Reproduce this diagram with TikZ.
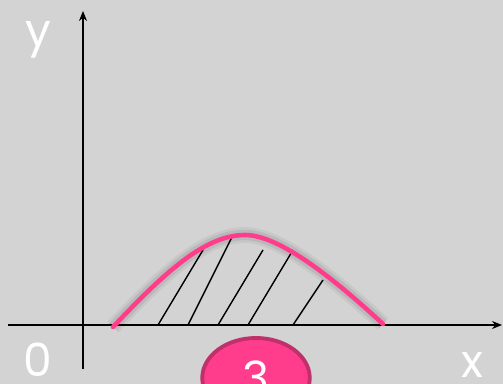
\documentclass[tikz,border=0pt]{standalone}
\usepackage{fontspec}
\setmainfont{Poppins}
\usetikzlibrary{shapes.geometric, arrows.meta, positioning}
\definecolor{cBack}{RGB}{211,211,211}
\definecolor{cPink}{RGB}{255,61,140}
\definecolor{cPinkDark}{RGB}{192,48,106}
\tikzset{
	axis/.style   ={-{Stealth[length=2mm, width=1.6mm]}, line width=0.9pt},
	curve/.style  ={draw=cPink, line width=2.6pt},
	hatch/.style  ={line width=0.8pt},
	lbl/.style    ={text=white, font=\fontsize{26}{28}\selectfont, inner sep=0pt},
	badge/.style  ={ellipse, draw=cPinkDark, fill=cPink, line width=2.2pt, minimum width=2.15cm, minimum height=1.6cm, text=white, font=\fontsize{26}{28}\selectfont},
}
\begin{document}
\begin{tikzpicture}[x=0.02cm, y=-0.02cm]
	\fill[cBack] (0,0) rectangle (503,384);
	\useasboundingbox (0,0) rectangle (503,384);
	\clip (0,0) rectangle (503,384);
	% axes
	\coordinate (xa) at (8,325);
	\coordinate (xb) at (502,325);
	\coordinate (ya) at (83,369);
	\coordinate (yb) at (83,11);
	\draw[axis] (xa) -- (xb);
	\draw[axis] (ya) -- (yb);
	\node[lbl] (ylbl) at (38,40) {y};
	\node[lbl] (olbl) at (38,360) {0};
	\node[lbl] (xlbl) at (472,365) {x};
	% bump
	\coordinate (cs) at (113,327);
	\coordinate (cp) at (245,235);
	\coordinate (ce) at (383,324);
	\foreach \w/\o in {9/0.05, 6/0.07} \draw[draw=black, line width=\w pt, opacity=\o]
		(cs) .. controls (165,272) and (205,235) .. (cp) .. controls (278,235) and (330,275) .. (ce);
	% hatching
	\foreach \xa/\xb/\yb in {158/203/250, 188/233/235, 218/263/250, 248/293/250, 293/323/280}
		\draw[hatch] (\xa,325) -- (\xb,\yb);
	\draw[curve, line cap=round] (cs) .. controls (165,272) and (205,235) .. (cp) .. controls (278,235) and (330,275) .. (ce);
	% badge
	\node[badge] (num) at (256,378) {3};
\end{tikzpicture}
\end{document}
